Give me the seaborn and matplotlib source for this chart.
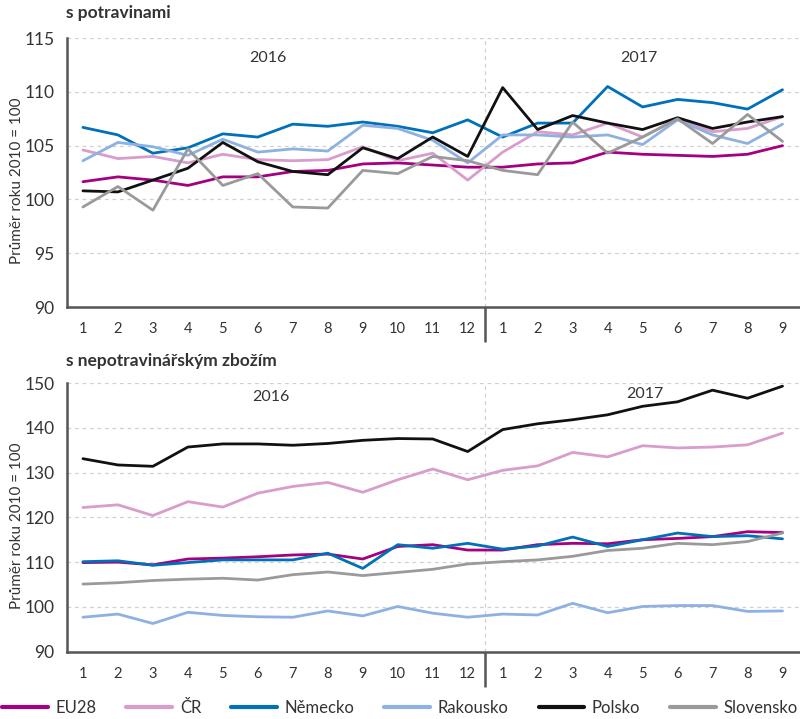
import matplotlib
matplotlib.use('Agg')
import numpy as np
import pandas as pd
import matplotlib.pyplot as plt
import matplotlib.transforms as mtransforms
import seaborn as sns

sns.set_style('white')
plt.rcParams['font.family'] = ['Lato', 'DejaVu Sans']

# x axis: months 2016 (1-12) and 2017 (1-9)
month_labels = [str(m) for m in range(1, 13)] + [str(m) for m in range(1, 10)]
positions = list(range(1, len(month_labels) + 1))

countries = ['EU28', 'ČR', 'Německo', 'Rakousko', 'Polsko', 'Slovensko']
colors = ['#a5007f', '#d99ccb', '#0070b9', '#8db1e1', '#111111', '#9a9a9a']

# s potravinami
food_eu28 = [101.65, 102.1, 101.8, 101.3, 102.1, 102.1, 102.6, 102.7, 103.3, 103.4, 103.2, 103.0,
             103.0, 103.3, 103.4, 104.4, 104.2, 104.1, 104.0, 104.2, 105.0]
food_cr = [104.6, 103.8, 104.0, 103.4, 104.2, 103.7, 103.6, 103.7, 104.9, 103.6, 104.3, 101.8,
           104.4, 106.3, 106.0, 107.1, 105.8, 107.5, 106.3, 106.6, 107.7]
food_de = [106.7, 106.0, 104.3, 104.8, 106.1, 105.8, 107.0, 106.8, 107.2, 106.8, 106.2, 107.4,
           105.8, 107.1, 107.1, 110.5, 108.6, 109.3, 109.0, 108.4, 110.2]
food_at = [103.6, 105.3, 104.9, 104.1, 105.6, 104.4, 104.7, 104.5, 106.9, 106.6, 105.5, 103.4,
           106.0, 106.0, 105.8, 106.0, 105.1, 107.4, 106.0, 105.2, 107.0]
food_pl = [100.8, 100.7, 101.8, 102.9, 105.3, 103.5, 102.6, 102.3, 104.8, 103.8, 105.8, 104.0,
           110.4, 106.5, 107.8, 107.1, 106.5, 107.6, 106.6, 107.2, 107.7]
food_sk = [99.3, 101.2, 99.0, 104.7, 101.3, 102.4, 99.3, 99.2, 102.7, 102.4, 104.0, 103.6,
           102.7, 102.3, 107.2, 104.3, 105.8, 107.5, 105.2, 107.9, 105.4]

# s nepotravinářským zbožím
nonfood_eu28 = [109.9, 110.0, 109.4, 110.7, 110.9, 111.2, 111.6, 111.8, 110.7, 113.5, 113.9, 112.7,
                112.7, 113.9, 114.2, 114.1, 115.0, 115.3, 115.7, 116.8, 116.6]
nonfood_cr = [122.2, 122.8, 120.4, 123.5, 122.3, 125.4, 126.9, 127.8, 125.6, 128.4, 130.8, 128.4,
              130.5, 131.5, 134.5, 133.5, 136.0, 135.5, 135.7, 136.2, 138.8]
nonfood_de = [110.1, 110.3, 109.3, 109.9, 110.5, 110.5, 110.5, 112.0, 108.6, 113.9, 113.1, 114.2,
              112.9, 113.6, 115.6, 113.5, 115.0, 116.5, 115.7, 115.9, 115.2]
nonfood_at = [97.7, 98.4, 96.3, 98.8, 98.1, 97.8, 97.7, 99.1, 98.0, 100.1, 98.6, 97.7,
              98.4, 98.2, 100.8, 98.7, 100.1, 100.3, 100.3, 99.0, 99.1]
nonfood_pl = [133.1, 131.7, 131.4, 135.7, 136.4, 136.4, 136.1, 136.5, 137.2, 137.6, 137.5, 134.7,
              139.6, 140.9, 141.8, 142.9, 144.8, 145.8, 148.4, 146.6, 149.3]
nonfood_sk = [105.1, 105.4, 105.9, 106.2, 106.4, 106.0, 107.2, 107.8, 107.0, 107.7, 108.4, 109.6,
              110.1, 110.5, 111.3, 112.6, 113.1, 114.2, 113.9, 114.6, 116.5]

food = [food_eu28, food_cr, food_de, food_at, food_pl, food_sk]
nonfood = [nonfood_eu28, nonfood_cr, nonfood_de, nonfood_at, nonfood_pl, nonfood_sk]


def to_long(series):
    rows = []
    for name, vals in zip(countries, series):
        for p, v in zip(positions, vals):
            rows.append({'pos': p, 'value': v, 'země': name})
    return pd.DataFrame(rows)


fig = plt.figure(figsize=(8, 7.19), dpi=100)
ax1 = fig.add_axes([0.084, 0.573, 0.916, 0.374])
ax2 = fig.add_axes([0.084, 0.0936, 0.916, 0.3737])

panels = [
    (ax1, food, (90, 115), [90, 95, 100, 105, 110, 115], 's potravinami', 0.982,
     [(6.28, 0.926), (16.9, 0.926)]),
    (ax2, nonfood, (90, 150), [90, 100, 110, 120, 130, 140, 150], 's nepotravinářským zbožím', 0.498,
     [(6.36, 0.948), (17.06, 0.959)]),
]

spine_col = '#555555'
for ax, series, ylim, yticks, title, ty, years in panels:
    df = to_long(series)
    for yv in yticks[1:]:
        ax.axhline(yv, color='#d0d0d0', lw=0.9, ls=(0, (3, 3)), zorder=0)
    ax.axvline(12.5, color='#d0d0d0', lw=0.9, ls=(0, (3, 3)), zorder=0)
    sns.lineplot(data=df, x='pos', y='value', hue='země', hue_order=countries,
                 palette=colors, linewidth=2.0, ax=ax, legend=(ax is ax2))
    ax.set_xlim(0.55, 21.5)
    ax.set_ylim(*ylim)
    ax.set_yticks(yticks)
    ax.set_yticklabels([str(v) for v in yticks], fontsize=12.5, color='#333333')
    ax.set_xticks(positions)
    ax.set_xticklabels(month_labels, fontsize=10.5, color='#333333')
    ax.tick_params(axis='both', length=0)
    ax.tick_params(axis='x', pad=11)
    ax.tick_params(axis='y', pad=9)
    for s in ['top', 'right']:
        ax.spines[s].set_visible(False)
    for s in ['left', 'bottom']:
        ax.spines[s].set_color(spine_col)
        ax.spines[s].set_linewidth(1.8)
    ax.set_xlabel('')
    ax.set_ylabel('Průměr roku 2010 = 100', fontsize=11, color='#333333')
    ax.yaxis.set_label_coords(-0.059, 0.468)
    # year divider tick below the axis
    trans = mtransforms.blended_transform_factory(ax.transData, ax.transAxes)
    ax.plot([12.5, 12.5], [0, -0.13], transform=trans, color=spine_col, lw=1.8,
            clip_on=False, solid_capstyle='butt')
    ax.text(years[0][0], years[0][1], '2016', transform=trans, ha='center', va='center',
            fontsize=11.5, color='#333333')
    ax.text(years[1][0], years[1][1], '2017', transform=trans, ha='center', va='center',
            fontsize=11.5, color='#333333')
    fig.text(0.082, ty, title, fontsize=12.5, fontweight='bold', color='#333333',
             ha='left', va='center')

handles, labels = ax2.get_legend_handles_labels()
ax2.get_legend().remove()
for h in handles:
    h.set_linewidth(3)
fig.legend(handles, labels, loc='center', bbox_to_anchor=(0.5, 1 - 708 / 719), ncol=6,
           frameon=False, fontsize=12, handlelength=2.75, handletextpad=0.45,
           columnspacing=1.8, labelcolor='#333333')

fig.savefig('out.png', dpi=100)
